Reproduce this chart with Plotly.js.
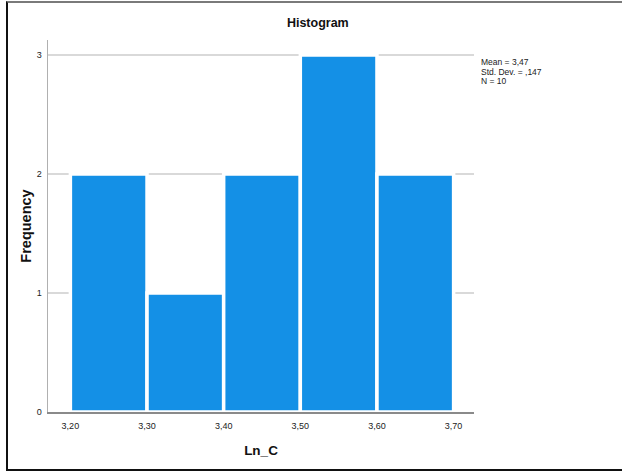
<!DOCTYPE html>
<html>
<head>
<meta charset="utf-8">
<script src="https://cdn.plot.ly/plotly-3.0.1.min.js"></script>
<style>
  html, body { margin: 0; padding: 0; background: #fff; overflow: hidden; }
  #wrap { position: relative; width: 622px; height: 473px; overflow: hidden; }
  #chart { width: 622px; height: 473px; }
  #frame { position: absolute; left: 6px; top: 1px; width: 700px; height: 470px;
           border-left: 2px solid #111; border-top: 2px solid #7a7a7a; border-bottom: 2px solid #111;
           box-sizing: border-box; pointer-events: none; }
  #cover { position: absolute; left: 612px; top: 4px; width: 10px; height: 464px; background: #fff; pointer-events: none; }
</style>
</head>
<body>
<div id="wrap">
  <div id="chart"></div>
  <div id="frame"></div>
  <div id="cover"></div>
</div>
<script>
// Histogram data (Ln_C)
const binCenters = [3.25, 3.35, 3.45, 3.55, 3.65];
const binWidth = 0.1;
const frequencies = [2, 1, 2, 3, 2];
const xTickValues = [3.2, 3.3, 3.4, 3.5, 3.6, 3.7];
const yTickValues = [0, 1, 2, 3];
const statLines = ['Mean = 3,47', 'Std. Dev. = ,147', 'N = 10'];

const font = '"Liberation Sans", Arial, sans-serif';

const trace = {
  type: 'bar',
  x: binCenters,
  y: frequencies,
  width: binCenters.map(() => binWidth),
  marker: { color: '#1490E6', line: { color: '#ffffff', width: 3.5 } },
  hoverinfo: 'x+y'
};

const statYs = [0.941, 0.915, 0.891];
const annotations = statLines.map((t, i) => ({
  text: t, xref: 'paper', yref: 'paper', x: 1.012, y: statYs[i],
  xanchor: 'left', yanchor: 'middle', showarrow: false,
  font: { family: font, size: 8.5, color: '#222' }
}));

const layout = {
  width: 622, height: 473,
  margin: { l: 48, r: 148, t: 40, b: 61 },
  paper_bgcolor: '#ffffff', plot_bgcolor: '#ffffff',
  separators: ',.',
  showlegend: false,
  bargap: 0,
  title: { text: 'Histogram', x: 0.511, xanchor: 'center', xref: 'container',
           y: 0.953, yanchor: 'middle', yref: 'container',
           font: { family: font, size: 12.5, color: '#111', weight: 'bold' } },
  xaxis: {
    range: [3.1708, 3.7266],
    tickvals: xTickValues, tickformat: '.2f',
    ticks: 'outside', ticklen: 5, tickcolor: 'rgba(0,0,0,0)',
    showgrid: false, zeroline: false,
    showline: true, linecolor: '#8a8a8a', linewidth: 1.5,
    tickfont: { family: font, size: 9, color: '#222' },
    title: { text: 'Ln_C', standoff: 15, font: { family: font, size: 13.5, color: '#111', weight: 'bold' } },
    fixedrange: true
  },
  yaxis: {
    range: [0, 3.126],
    tickvals: yTickValues, tickformat: 'd',
    ticks: 'outside', ticklen: 3, tickcolor: 'rgba(0,0,0,0)',
    showgrid: true, gridcolor: '#d9d9d9', gridwidth: 1.5,
    zeroline: false,
    showline: true, linecolor: '#b0b0b0', linewidth: 1.5,
    tickfont: { family: font, size: 9, color: '#222' },
    title: { text: 'Frequency', standoff: 1, font: { family: font, size: 14.5, color: '#111', weight: 'bold' } },
    fixedrange: true
  },
  annotations: annotations
};

Plotly.newPlot('chart', [trace], layout, { displayModeBar: false, staticPlot: true });
</script>
</body>
</html>
